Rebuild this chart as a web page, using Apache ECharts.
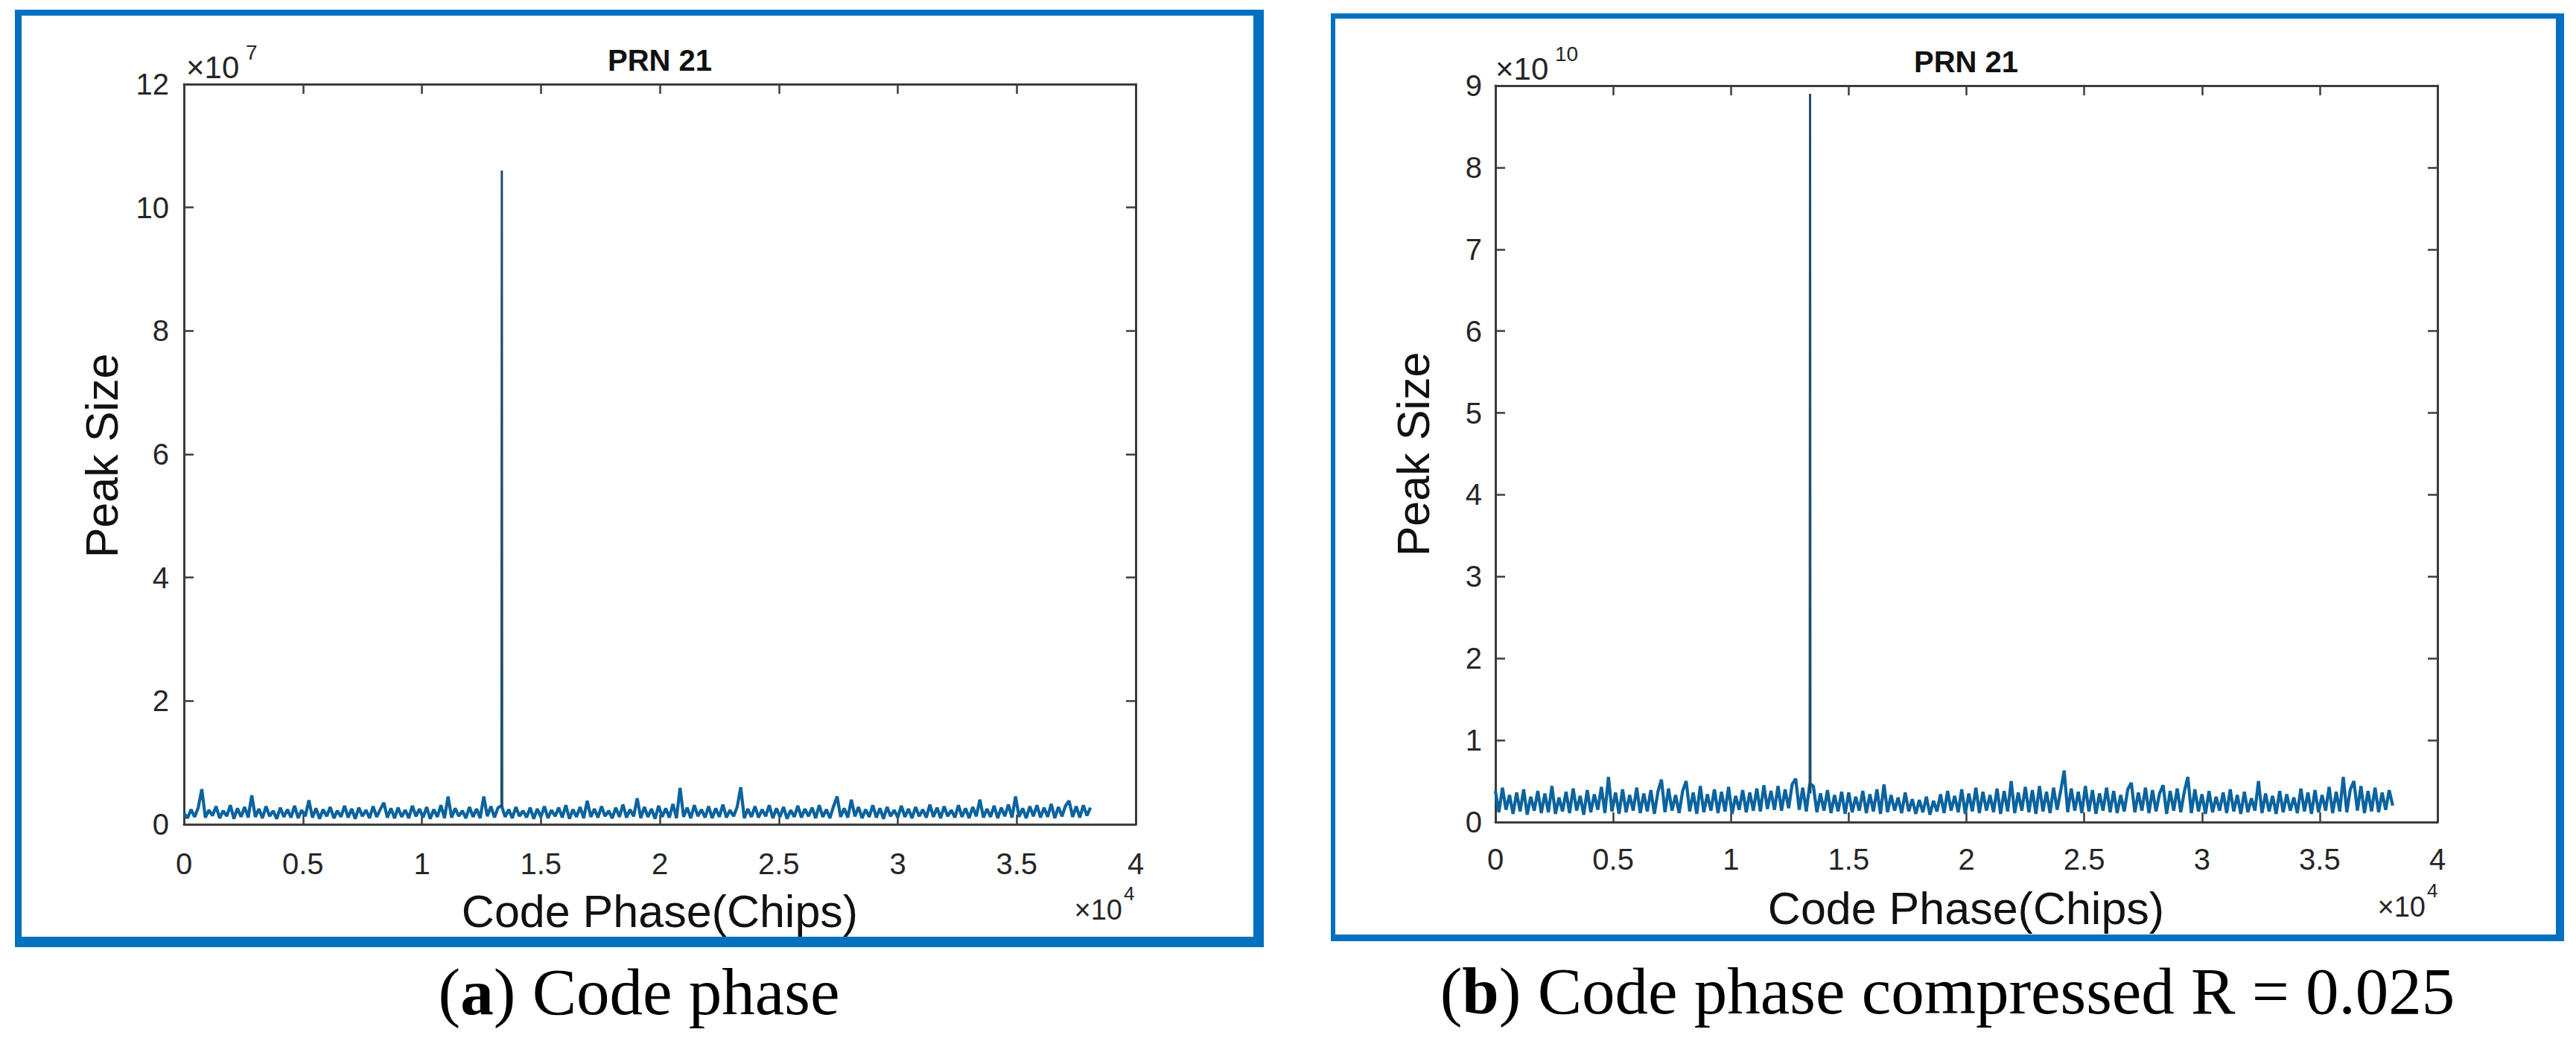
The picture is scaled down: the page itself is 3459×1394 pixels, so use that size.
<!DOCTYPE html>
<html>
<head>
<meta charset="utf-8">
<script src="https://cdn.jsdelivr.net/npm/echarts@6/dist/echarts.min.js"></script>
<style>
html,body{margin:0;padding:0;background:#fff;}
#c{width:3459px;height:1394px;}
</style>
</head>
<body>
<div id="c"></div>
<script>
// ---------- DATA ----------
const STEP = 150; // chips between noise samples
const xTickLabels = ['0','0.5','1','1.5','2','2.5','3','3.5','4'];
const yTickLabelsA = ['0','2','4','6','8','10','12'];
const yTickLabelsB = ['0','1','2','3','4','5','6','7','8','9'];
// Panel (a) noise, units of 1e5
const noiseA = [
18,10,24,12,27,57,11,23,14,29,10,22,13,31,9,26,12,28,11,47,
12,25,10,29,13,22,9,27,12,24,11,30,10,23,13,39,11,26,9,24,
13,28,10,22,12,30,11,25,9,27,13,23,10,29,12,24,35,11,26,10,
27,12,23,10,30,13,25,11,28,9,24,12,31,10,45,11,26,13,22,10,
28,12,25,10,45,13,29,11,27,30,12,24,10,28,13,22,11,27,9,25,
12,29,10,23,13,27,11,31,9,24,12,28,10,38,12,25,11,29,13,22,
10,27,12,32,11,24,13,42,10,28,12,25,9,30,12,26,11,33,10,59,
12,27,10,31,13,24,11,29,10,26,12,32,11,23,13,28,60,10,25,12,
29,11,24,13,31,10,26,12,28,9,23,12,30,11,25,13,27,10,31,12,
24,10,29,45,12,26,11,40,13,28,10,24,12,31,11,26,9,28,13,23,
11,30,12,25,10,28,13,24,11,32,12,27,10,29,13,23,11,31,12,26,
10,28,13,40,11,25,12,30,10,27,13,32,11,45,12,26,10,29,13,31,
11,27,12,33,10,28,13,30,38,12,29,11,31,14,27
];
// Panel (b) noise, units of 1e8
const noiseB = [
38,12,42,15,33,10,36,13,40,9,31,14,38,11,35,12,44,10,30,13,
37,11,41,14,32,9,39,12,34,15,43,11,55,13,36,10,40,12,33,14,
42,11,35,13,39,10,37,52,12,41,14,33,11,38,50,13,36,10,44,12,
34,14,40,11,37,13,43,10,32,15,39,12,36,14,41,13,45,16,38,15,
44,14,40,17,46,53,15,42,13,47,44,12,35,14,39,11,33,13,37,10,
36,12,31,14,38,11,34,13,40,10,46,12,33,14,30,11,36,13,28,10,
27,12,31,9,26,13,34,11,38,14,32,12,40,10,35,13,42,11,37,14,
33,12,41,10,38,13,50,11,36,14,43,12,39,10,44,13,37,11,42,15,
38,63,12,41,14,37,11,44,13,39,10,35,14,42,12,38,11,33,13,40,
48,12,36,14,42,11,39,13,35,45,10,38,14,41,12,37,55,11,40,13,
34,10,38,12,31,14,36,11,40,13,33,10,37,12,29,14,50,11,35,13,
32,10,38,12,34,14,30,11,41,13,36,10,39,12,33,14,43,11,37,13,
55,12,40,50,14,44,11,38,13,42,12,36,15,39,20
];
// Correlation peaks (x in chips, y in units: a ×1e5, b ×1e8)
const peakXA = [13345, 13360, 13375];
const peakYA = [30, 1060, 28];
const peakXB = [13345, 13360, 13375];
const peakYB = [40, 890, 35];

// ---------- BUILD ----------
const noisePts = (noise, unit) => noise.map((v, i) => [i * STEP, v * unit]);
const peakPts = (px, py, unit) => px.map((x, j) => [x, py[j] * unit]);
const dataA = noisePts(noiseA, 1e5), peakA = peakPts(peakXA, peakYA, 1e5);
const dataB = noisePts(noiseB, 1e8), peakB = peakPts(peakXB, peakYB, 1e8);

const AX = '#3c3c3c';
const LBL = '#262626';
const SANS = 'Liberation Sans, Arial, sans-serif';
const SERIF = 'Liberation Serif, Times New Roman, serif';
const BLUE = '#0070c0';
const LINE = '#0b639f';
const PEAK = '#1f4e6e';

const gridA = {left: 247, top: 113, width: 1278, height: 994};
const gridB = {left: 2008, top: 115, width: 1265, height: 989};

function xAxes(gi, margin) {
  const base = {
    type: 'value', gridIndex: gi, min: 0, max: 40000, interval: 5000,
    axisLine: {show: true, onZero: false, lineStyle: {color: AX, width: 3}},
    axisTick: {show: true, inside: true, length: 13, lineStyle: {color: AX, width: 2.5}},
    splitLine: {show: false}
  };
  return [
    Object.assign({}, base, {position: 'bottom',
      axisLabel: {show: true, margin: margin, fontSize: 40, fontFamily: SANS, color: LBL,
        formatter: v => xTickLabels[Math.round(v / 5000)]}}),
    Object.assign({}, base, {position: 'top', axisLabel: {show: false}})
  ];
}
function yAxes(gi, max, interval, labels, margin) {
  const base = {
    type: 'value', gridIndex: gi, min: 0, max: max, interval: interval,
    axisLine: {show: true, onZero: false, lineStyle: {color: AX, width: 3}},
    axisTick: {show: true, inside: true, length: 13, lineStyle: {color: AX, width: 2.5}},
    splitLine: {show: false}
  };
  return [
    Object.assign({}, base, {position: 'left',
      axisLabel: {show: true, margin: margin, fontSize: 40, fontFamily: SANS, color: LBL,
        formatter: v => labels[Math.round(v / interval)]}}),
    Object.assign({}, base, {position: 'right', axisLabel: {show: false}})
  ];
}

function txt(x, y, text, size, opts) {
  return Object.assign({
    type: 'text', x: x, y: y, silent: true,
    style: Object.assign({text: text, fontSize: size, fontFamily: SANS, fill: LBL,
      align: 'center', verticalAlign: 'middle'}, (opts && opts.style) || {})
  }, opts && opts.rotation !== undefined ? {rotation: opts.rotation} : {});
}
function frame(x0, y0, x1, y1, l, t, r, b) {
  const s = {fill: BLUE};
  return [
    {type: 'rect', shape: {x: x0, y: y0, width: x1 - x0, height: t}, style: s, silent: true},
    {type: 'rect', shape: {x: x0, y: y1 - b, width: x1 - x0, height: b}, style: s, silent: true},
    {type: 'rect', shape: {x: x0, y: y0, width: l, height: y1 - y0}, style: s, silent: true},
    {type: 'rect', shape: {x: x1 - r, y: y0, width: r, height: y1 - y0}, style: s, silent: true}
  ];
}

const graphics = [].concat(
  frame(20, 13, 1697, 1272, 9, 8, 14, 14),
  frame(1787, 18, 3443, 1264, 6, 7, 11, 9),
  [
    // titles
    txt(886, 81, 'PRN 21', 40, {style: {fontWeight: 'bold', fill: '#111'}}),
    txt(2640, 83, 'PRN 21', 40, {style: {fontWeight: 'bold', fill: '#111'}}),
    // y axis names
    txt(137, 612, 'Peak Size', 61, {rotation: Math.PI / 2, style: {fill: '#111'}}),
    txt(1898, 610, 'Peak Size', 61, {rotation: Math.PI / 2, style: {fill: '#111'}}),
    // x axis names
    txt(886, 1224, 'Code Phase(Chips)', 61, {style: {fill: '#111'}}),
    txt(2640, 1220, 'Code Phase(Chips)', 61, {style: {fill: '#111'}}),
    // y exponents
    txt(250, 90, '×10', 42, {style: {align: 'left'}}),
    txt(330, 70, '7', 28, {style: {align: 'left'}}),
    txt(2008, 92, '×10', 42, {style: {align: 'left'}}),
    txt(2088, 72, '10', 28, {style: {align: 'left'}}),
    // x exponents
    txt(1507, 1222, '×10', 38, {style: {align: 'right'}}),
    txt(1509, 1200, '4', 26, {style: {align: 'left'}}),
    txt(3257, 1218, '×10', 38, {style: {align: 'right'}}),
    txt(3259, 1196, '4', 26, {style: {align: 'left'}}),
    // captions
    {type: 'text', x: 858, y: 1332, silent: true, style: {
      text: '{n|(}{b|a}{n|) Code phase}', align: 'center', verticalAlign: 'middle', fill: '#000',
      fontSize: 89, fontFamily: SERIF,
      rich: {n: {fontSize: 89, fontFamily: SERIF, fill: '#000'},
             b: {fontSize: 89, fontFamily: SERIF, fontWeight: 'bold', fill: '#000'}}}},
    {type: 'text', x: 2615, y: 1331, silent: true, style: {
      text: '{n|(}{b|b}{n|) Code phase compressed R = 0.025}', align: 'center', verticalAlign: 'middle', fill: '#000',
      fontSize: 89, fontFamily: SERIF,
      rich: {n: {fontSize: 89, fontFamily: SERIF, fill: '#000'},
             b: {fontSize: 89, fontFamily: SERIF, fontWeight: 'bold', fill: '#000'}}}}
  ]
);

const xa = xAxes(0, 33), xb = xAxes(1, 30);
const ya = yAxes(0, 1.2e8, 2e7, yTickLabelsA, 20);
const yb = yAxes(1, 9e10, 1e10, yTickLabelsB, 18);

function lineSeries(xi, yi, data, color, width, z) {
  return {type: 'line', xAxisIndex: xi, yAxisIndex: yi, data: data, showSymbol: false,
    sampling: null, lineStyle: {color: color, width: width}, itemStyle: {color: color}, z: z};
}

const chart = echarts.init(document.getElementById('c'), null, {renderer: 'svg'});
chart.setOption({
  animation: false,
  backgroundColor: '#fff',
  grid: [gridA, gridB],
  xAxis: [xa[0], xa[1], xb[0], xb[1]],
  yAxis: [ya[0], ya[1], yb[0], yb[1]],
  series: [
    lineSeries(0, 0, dataA, LINE, 4.2, 3),
    lineSeries(0, 0, peakA, PEAK, 3, 4),
    lineSeries(2, 2, dataB, LINE, 4.2, 3),
    lineSeries(2, 2, peakB, PEAK, 3, 4)
  ],
  graphic: graphics
});
</script>
</body>
</html>
